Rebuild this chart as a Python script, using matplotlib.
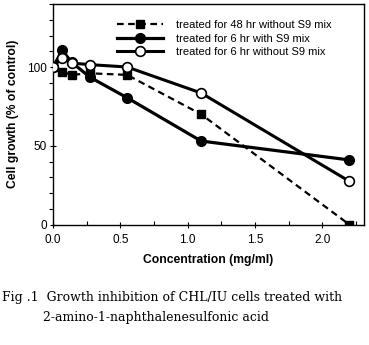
import matplotlib
matplotlib.use("Agg")
import matplotlib.pyplot as plt
from matplotlib.ticker import MultipleLocator

conc = [0, 0.069, 0.138, 0.275, 0.55, 1.1, 2.2]
h48_noS9 = [100, 97, 95, 96, 95, 70, 0]
h6_S9 = [100, 110.5, 103, 93.5, 80.5, 53, 41]
h6_noS9 = [100, 106, 102.5, 101.5, 100, 83.5, 27.5]
labels = ["treated for 48 hr without S9 mix",
          "treated for 6 hr with S9 mix",
          "treated for 6 hr without S9 mix"]
xlabel = "Concentration (mg/ml)"
ylabel = "Cell growth (% of control)"
caption1 = "Fig .1   Growth inhibition of CHL/IU cells treated with"
caption2 = "2-amino-1-naphthalenesulfonic acid"

plt.rcParams['font.family'] = ['Liberation Sans', 'DejaVu Sans']
fig = plt.figure(figsize=(3.69, 3.45), dpi=100)
ax = fig.add_axes([53 / 369, 1 - 224.5 / 345, 311 / 369, 220.5 / 345])

l1, = ax.plot(conc, h48_noS9, color='black', ls=(0, (3, 2)), lw=1.6,
              marker='s', ms=5.5, mfc='black', mec='black', label=labels[0], zorder=3)
l2, = ax.plot(conc, h6_S9, color='black', ls='-', lw=2.3,
              marker='o', ms=7, mfc='black', mec='black', label=labels[1], zorder=4)
l3, = ax.plot(conc, h6_noS9, color='black', ls='-', lw=2.2,
              marker='o', ms=7, mfc='white', mec='black', mew=1.2, label=labels[2], zorder=5)

ax.set_xlim(0, 2.31)
ax.set_ylim(0, 140)
for s in ax.spines.values():
    s.set_linewidth(1.0)
ax.xaxis.set_major_locator(MultipleLocator(0.5))
ax.xaxis.set_minor_locator(MultipleLocator(0.25))
ax.yaxis.set_major_locator(MultipleLocator(50))
ax.yaxis.set_minor_locator(MultipleLocator(10))
ax.tick_params(axis='x', which='major', direction='inout', length=5, width=0.8, labelsize=8.5, pad=4)
ax.tick_params(axis='x', which='minor', direction='in', length=3, width=0.8)
ax.tick_params(axis='y', which='major', direction='inout', length=5, width=0.8, labelsize=8.5, pad=2)
ax.tick_params(axis='y', which='minor', direction='out', length=3, width=0.8)
ax.set_xticklabels([f"{v:.1f}" for v in ax.get_xticks()])

ax.set_xlabel(xlabel, fontsize=8.7, fontweight='bold', labelpad=6)
ax.set_ylabel(ylabel, fontsize=8.7, fontweight='bold', labelpad=6)

leg = fig.legend(handles=[l1, l2, l3], loc='upper left', bbox_to_anchor=(117 / 369, 1 - 20 / 345),
                 frameon=False, fontsize=8, handlelength=4.1, handletextpad=1.2,
                 labelspacing=0.32, borderaxespad=0, borderpad=0)

fig.text(0.005, 1 - 298 / 345, caption1.replace("   ", "  "), fontsize=9, family=['DejaVu Serif'], va='center')
fig.text(43 / 369, 1 - 318 / 345, caption2, fontsize=9, family=['DejaVu Serif'], va='center')

fig.savefig("out.png", dpi=100)
